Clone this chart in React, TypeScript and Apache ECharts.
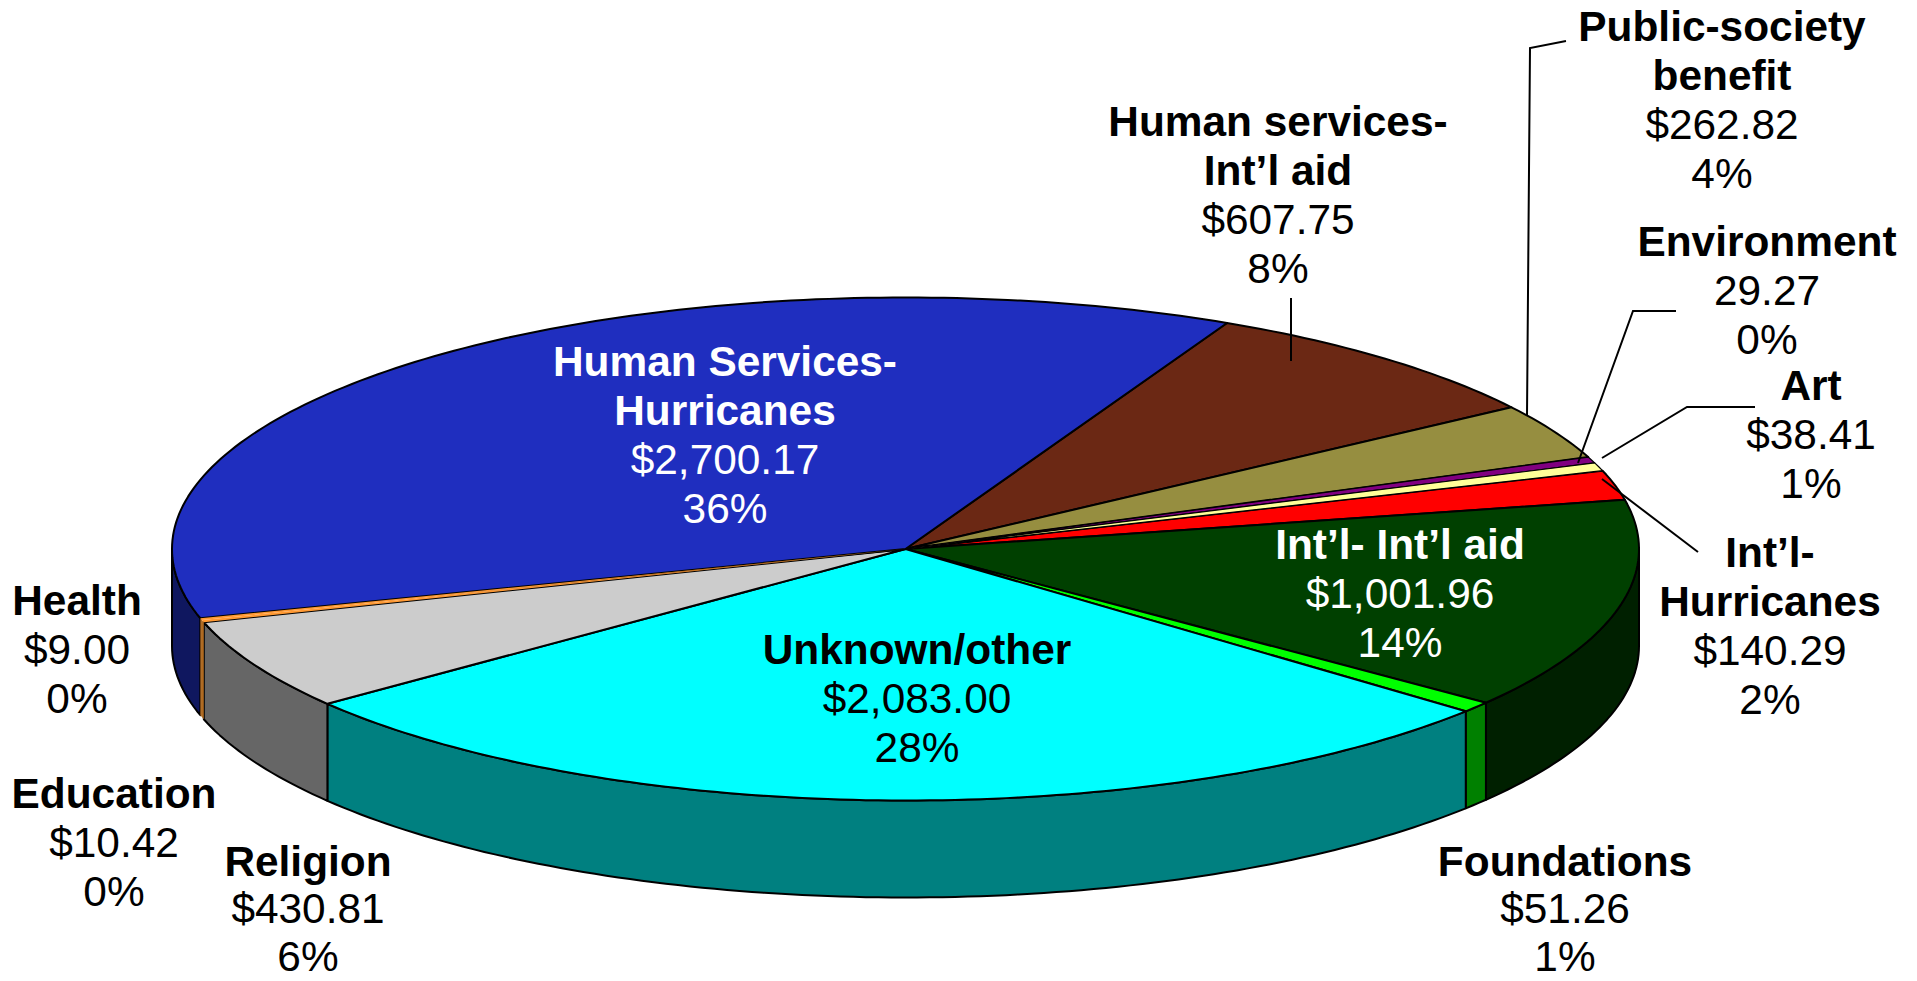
import React, { useEffect, useRef } from "react";
import * as echarts from "echarts";

// ---- data, in pie order (clockwise, starting at the brown slice) ----
const sliceNames = [
  "Human services-\nInt\u2019l aid",
  "Public-society\nbenefit",
  "Environment",
  "Art",
  "Int\u2019l-\nHurricanes",
  "Int\u2019l- Int\u2019l aid",
  "Foundations",
  "Unknown/other",
  "Religion",
  "Education",
  "Health",
  "Human Services-\nHurricanes",
];
const sliceValues = [607.75, 262.82, 29.27, 38.41, 140.29, 1001.96, 51.26, 2083.0, 430.81, 10.42, 9.0, 2700.17];
const valueLabels = ["$607.75", "$262.82", "29.27", "$38.41", "$140.29", "$1,001.96", "$51.26", "$2,083.00", "$430.81", "$10.42", "$9.00", "$2,700.17"];
const percentLabels = ["8%", "4%", "0%", "1%", "2%", "14%", "1%", "28%", "6%", "0%", "0%", "36%"];

// ---- styles and layout ----
const topColors = ["#6B2814", "#968E40", "#800080", "#FFFF99", "#FF0000", "#004000", "#00FF00", "#00FFFF", "#CCCCCC", "#FF9933", "#FF9933", "#1F2EBF"];
const sideColors = ["#36140A", "#4B4720", "#400040", "#80804C", "#800000", "#002000", "#008000", "#008080", "#666666", "#B06A20", "#B06A20", "#0F175F"];
const labelColors = ["#000", "#000", "#000", "#000", "#000", "#fff", "#000", "#000", "#000", "#000", "#000", "#fff"];
// edge width of the slices too thin for the regular 2px outline; -1 = no outline
const sliverEdge = [0, 0, 1.2, 1.2, 0, 0, 0, 0, 0, -1, -1, 0];
const labelAnchors: number[][] = [
  [1278, 121.5], [1722, 26], [1767, 241], [1811, 385], [1770, 552], [1400, 544],
  [1565, 861], [917, 649], [308, 861], [114, 793], [77, 600], [725, 361],
];
const labelPitches = [49, 49, 49, 49, 49, 49, 47.5, 49, 47.5, 49, 49, 49];
const leaderLines: number[][][] = [
  [[1291, 298], [1291, 361]],
  [[1566, 41], [1530, 48], [1527, 415]],
  [[1676, 311], [1633, 311], [1578, 463]],
  [[1755, 407], [1687, 407], [1602, 458]],
  [[1602, 479], [1698, 552]],
];
const CX = 905.5;
const CY = 549;
const RX = 733.5;
const RY = 251.5;
const DEPTH = 97;
const START_DEG = 26;
const FONT_SIZE = 42.4;
const FONT = '"Liberation Sans", Arial, sans-serif';

const total = sliceValues.reduce((a, b) => a + b, 0);
const cumulative: number[] = [];
sliceValues.reduce((acc, v, i) => ((cumulative[i] = acc), acc + v), 0);

const rim = (deg: number, dy = 0) => {
  const r = (deg * Math.PI) / 180;
  return [CX + RX * Math.sin(r), CY - RY * Math.cos(r) + dy];
};
const arcPoints = (a0: number, a1: number, dy = 0) => {
  const n = Math.max(2, Math.ceil(a1 - a0));
  const pts: number[][] = [];
  for (let i = 0; i <= n; i++) pts.push(rim(a0 + ((a1 - a0) * i) / n, dy));
  return pts;
};
const edgeFor = (i: number) =>
  sliverEdge[i] < 0
    ? { stroke: "none", lineWidth: 0 }
    : { stroke: "#000", lineWidth: sliverEdge[i] || 2, lineJoin: "round" as const };

// side wall visible on the front half (90..270 degrees)
const sideElements = (i: number, a0: number, a1: number) => {
  const s = Math.max(a0, 90);
  const e = Math.min(a1, 270);
  if (e <= s) return [];
  return [
    {
      type: "polygon",
      z2: sliverEdge[i] ? 2 : 1,
      shape: { points: [...arcPoints(s, e), ...arcPoints(s, e, DEPTH).reverse()] },
      style: { fill: sideColors[i], ...edgeFor(i) },
    },
  ];
};

const renderSlice = (params: any, api: any) => {
  const i = params.dataIndex;
  const value = api.value(0) as number;
  const a0 = START_DEG + (cumulative[i] / total) * 360;
  const a1 = a0 + (value / total) * 360;
  return {
    type: "group",
    children: [
      ...sideElements(i, a0, a1),
      {
        type: "polygon",
        z2: sliverEdge[i] ? 2 : 1,
        shape: { points: [[CX, CY], ...arcPoints(a0, a1)] },
        style: { fill: topColors[i], ...edgeFor(i) },
      },
    ],
  };
};

const renderLabel = (params: any) => {
  const i = params.dataIndex;
  const [x, y] = labelAnchors[i];
  const names = sliceNames[i].split("\n");
  const lines = [...names, valueLabels[i], percentLabels[i]];
  return {
    type: "group",
    children: lines.map((t, k) => ({
      type: "text",
      style: {
        text: t,
        x,
        y: y + k * labelPitches[i],
        align: "center",
        verticalAlign: "middle",
        fill: labelColors[i],
        fontFamily: FONT,
        fontSize: FONT_SIZE,
        fontWeight: k < names.length ? "bold" : "normal",
      },
    })),
  };
};

const renderLeader = (params: any) => ({
  type: "polyline",
  shape: { points: leaderLines[params.dataIndex] },
  style: { fill: "none", stroke: "#000", lineWidth: 2 },
});

export default function App() {
  const ref = useRef<HTMLDivElement>(null);
  useEffect(() => {
    document.body.style.margin = "0";
    const chart = echarts.init(ref.current!, undefined, { renderer: "svg" });
    chart.setOption({
      animation: false,
      backgroundColor: "#fff",
      tooltip: { show: false },
      series: [
        { type: "custom", coordinateSystem: "none", silent: true, z: 1, data: sliceValues.map((v) => [v]), renderItem: renderSlice },
        { type: "custom", coordinateSystem: "none", silent: true, z: 2, data: leaderLines.map((_, i) => [i]), renderItem: renderLeader },
        { type: "custom", coordinateSystem: "none", silent: true, z: 3, data: sliceValues.map((v) => [v]), renderItem: renderLabel },
      ],
    });
    return () => chart.dispose();
  }, []);
  return <div ref={ref} style={{ width: 1917, height: 981, overflow: "hidden" }} />;
}
